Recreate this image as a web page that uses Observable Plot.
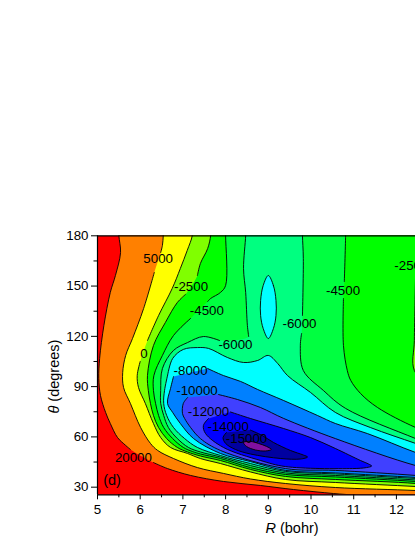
<!DOCTYPE html>
<html>
<head>
<meta charset="utf-8">
<script src="https://cdn.jsdelivr.net/npm/d3@7"></script>
<script src="https://cdn.jsdelivr.net/npm/@observablehq/plot@0.6"></script>
<style>
html,body{margin:0;padding:0;background:#fff;overflow:hidden}
svg{display:block}
</style>
</head>
<body>
<div id="chart"></div>
<script>
// Contour outlines as [R (bohr), theta (degrees)];
// null marks a break in the drawn line where a contour label sits.
const contour20000 = [[5.50,186.1],[5.50,180.2],[5.54,170.0],[5.42,156.3],[5.30,146.2],[5.15,126.5],[5.05,106.8],[5.03,94.9],[5.07,84.7],[5.19,74.6],[5.30,68.0],[5.47,59.6],[5.66,54.9],[5.77,52.5],null,[6.31,44.7],[6.64,41.1],[7.18,37.0],[7.95,33.4],[8.82,31.0],[9.59,28.6],[10.53,26.2],[11.09,25.0],[12.56,19.1],[13.27,16.2],[13.27,186.1]];
const contour5000 = [[6.54,186.1],[6.54,180.2],[6.52,174.2],[6.48,170.0],null,[6.33,158.1],[6.08,136.6],[5.82,118.7],[5.66,108.6],[5.59,98.4],[5.61,89.5],[5.77,80.0],[6.01,65.6],[6.24,56.1],[6.41,51.9],[6.78,47.1],[7.34,41.7],[7.95,38.2],[8.58,34.9],[9.40,32.2],[10.57,29.8],[12.45,28.0],[13.27,26.8],[13.27,186.1]];
const contour0 = [[7.22,186.1],[7.22,180.2],[7.10,171.2],[6.94,160.5],[6.75,148.6],[6.43,132.4],[6.17,117.5],null,[6.00,105.0],[5.93,96.6],[5.96,89.5],[6.12,80.0],[6.31,68.0],[6.48,59.6],[6.71,53.7],[7.11,50.1],[7.41,47.1],[7.88,44.1],[8.58,39.1],[9.40,34.6],[10.57,32.8],[12.45,30.4],[13.27,29.2],[13.27,186.1]];
const contourM2500 = [[7.65,186.1],[7.65,180.2],[7.58,172.4],[7.41,163.5],[7.34,156.3],null,[7.06,145.0],[6.87,140.2],[6.59,128.3],[6.31,114.5],[6.17,96.6],[6.19,87.7],[6.24,80.0],[6.31,72.8],[6.43,65.6],[6.62,59.0],[6.87,53.7],[7.11,51.0],[7.41,48.6],[7.88,45.9],[8.58,40.6],[9.40,36.4],[10.57,34.6],[12.45,32.2],[13.03,30.4],[13.03,81.7],[12.42,99.6],[12.42,117.5],[12.45,158.1],null,[12.47,168.2],[12.52,180.2],[12.52,186.1]];
const contourM4500 = [[8.00,186.1],[8.00,180.2],[8.00,150.3],[7.88,146.2],[7.65,142.6],[7.58,140.8],null,[7.18,130.7],[6.78,120.5],[6.52,108.6],[6.32,96.6],[6.31,87.7],[6.36,80.0],[6.43,72.8],[6.55,65.6],[6.76,59.0],[7.01,53.7],[7.22,51.3],[7.41,49.8],[7.88,47.1],[8.58,41.7],[9.40,37.6],[10.57,36.1],[12.45,33.4],[13.27,31.6],[13.27,57.9],[12.45,65.6],[11.56,77.5],[11.16,85.9],[10.93,93.7],[10.85,99.6],[10.76,114.5],[10.76,142.6],null,[10.78,152.7],[10.81,180.2],[10.81,186.1]];
const contourM6000 = [[8.47,186.1],[8.47,180.2],[8.42,160.5],[8.47,146.2],[8.51,126.5],[8.54,119.9],null,[7.86,117.5],[7.48,119.9],[7.11,116.3],[6.78,111.6],[6.52,100.8],[6.48,87.7],[6.48,80.0],[6.55,72.8],[6.66,65.6],[6.87,59.0],[7.13,53.7],[7.41,51.0],[7.88,48.0],[8.58,42.9],[9.40,38.5],[10.57,37.0],[12.45,34.3],[13.27,32.8],[13.27,50.7],[12.45,59.0],[10.81,77.0],[10.29,87.7],[9.82,99.6],[9.75,114.5],[9.78,121.7],null,[9.80,132.4],[9.82,166.5],[9.80,180.2],[9.80,186.1]];
const contourM7000 = [[6.64,96.6],[6.76,106.8],[7.01,112.2],[7.34,113.3],[7.60,112.8],[8.04,107.4],[8.42,104.4],[8.75,105.6],[9.00,108.6],[9.22,103.8],[9.45,96.6],[9.99,86.5],[10.57,74.6],[11.39,65.6],[12.45,56.1],[13.27,48.9],[13.27,34.0],[12.45,35.2],[10.57,37.9],[9.40,39.4],[8.58,44.1],[7.88,48.9],[7.34,53.7],[7.04,59.0],[6.78,65.6],[6.62,72.8],[6.55,80.0],[6.57,87.7],[6.64,96.6]];
const contourM7000Island = [[9.00,156.3],[9.12,150.3],[9.18,141.4],[9.18,132.4],[9.12,124.7],[9.00,118.7],[8.88,124.7],[8.82,132.4],[8.82,141.4],[8.88,150.3]];
const contourM8000 = [[7.58,100.8],[7.95,96.6],[8.35,93.1],[8.75,88.3],[9.36,81.7],[10.15,72.8],[10.57,68.0],[11.32,62.0],[12.45,50.7],[13.27,44.1],[13.27,34.6],[12.45,35.8],[10.57,38.5],[9.40,40.0],[8.58,45.3],[7.88,50.1],[7.25,59.0],[6.94,68.0],[6.76,74.6],[6.64,80.0],[6.71,88.9],[6.78,96.0]];
const contourM10000 = [[7.83,85.3],[8.28,82.3],[8.82,77.5],[9.36,71.0],[10.57,59.0],[12.45,42.9],[13.27,38.2],[13.27,35.2],[12.45,37.0],[10.57,40.0],[9.40,41.1],[7.88,51.9],[7.41,59.0],[7.18,65.6],[7.04,71.0],[6.99,74.0],[7.01,80.0],[7.11,83.5]];
const contourM12000 = [[8.11,74.9],[8.58,71.0],[9.36,65.0],[9.99,59.6],[10.57,53.1],[11.16,45.9],[11.35,43.8],[11.42,42.6],[11.30,41.7],[10.97,41.1],[9.40,42.3],[8.82,45.9],[7.95,53.7],[7.53,62.0],[7.48,66.8],[7.60,71.0]];
const contourM14000 = [[8.58,64.1],[8.86,60.8],[9.12,56.7],[9.52,51.9],[9.82,49.2],[9.92,48.0],[9.75,46.8],[9.29,47.1],[8.58,49.8],[8.23,52.5],[8.00,56.1],[7.94,59.6],[8.02,62.6]];
const contourM15000 = [[8.42,56.7],[8.58,57.3],[8.77,56.1],[8.96,54.3],[9.07,52.5],[8.93,51.6],[8.70,52.2],[8.49,54.3]];

const fillColors = ["#ff8000","#ffff00","#80ff00","#00ff00","#00ff40","#00ff80","#00ffff","#00ffff","#0080ff","#4040ff","#0000ff","#0000a0","#8010a0"];
const openContours = [contour20000,contour5000,contour0,contourM2500,contourM4500,contourM6000,contourM7000,contourM7000Island,contourM8000,contourM10000,contourM12000,contourM14000,contourM15000];
const closedLoops = [contourM7000Island,contourM15000];

const labelText = ["5000","-2500","-4500","-6000","0","-8000","-10000","-12000","-14000","-15000","20000","-6000","-4500","-2500"];
const labelR = [6.42,7.19,7.56,8.23,6.09,7.18,7.33,7.60,8.06,8.49,5.84,9.73,10.75,12.35];
const labelTheta = [166.5,149.7,135.4,115.1,109.8,99.6,87.3,75.3,65.8,58.9,47.5,127.3,147.0,162.3];

const xTicks = [5,6,7,8,9,10,11,12];
const xMinor = [5.5,6.5,7.5,8.5,9.5,10.5,11.5];
const yTicks = [30,60,90,120,150,180];
const yMinor = [45,75,105,135,165];
const xDomain = [5,12.447];
const yDomain = [25.45,180];

const rows = c => c.map(p => p ? {R:p[0],t:p[1]} : {R:NaN,t:NaN});
const fillRows = c => rows(c.filter(Boolean));

const marks = [Plot.frame({fill:"#ff0000",stroke:"none"})];
openContours.forEach((c,i) => {
  const curve = closedLoops.includes(c) ? "catmull-rom-closed" : "catmull-rom";
  marks.push(Plot.line(fillRows(c),{x:"R",y:"t",fill:fillColors[i],stroke:"none",curve,clip:true}));
  const drawn = closedLoops.includes(c) ? fillRows(c) : rows(c);
  marks.push(Plot.line(drawn,{x:"R",y:"t",stroke:"black",strokeWidth:0.9,curve,clip:true}));
});
marks.push(
  Plot.text(labelText,{x:(d,i)=>labelR[i],y:(d,i)=>labelTheta[i],text:d=>d,fontSize:13.3,fill:"black",textAnchor:"middle",clip:false}),
  Plot.text(["(d)"],{x:[5.34],y:[34.0],text:d=>d,fontSize:14.5,fill:"black"}),
  Plot.ruleY([180],{stroke:"black",strokeWidth:1.2}),
  Plot.ruleY([25.45],{stroke:"black",strokeWidth:1.2}),
  Plot.ruleX([5],{stroke:"black",strokeWidth:1.2}),
  Plot.axisX(xTicks,{anchor:"bottom",tickSize:5,tickPadding:5,label:null,tickFormat:d=>String(d),fontSize:13.3}),
  Plot.axisX(xMinor,{anchor:"bottom",tickSize:3,label:null,fill:"none"}),
  Plot.axisY(yTicks,{anchor:"left",tickSize:6,tickPadding:3,label:null,tickFormat:d=>String(d),fontSize:13.3}),
  Plot.axisY(yMinor,{anchor:"left",tickSize:3.5,label:null,fill:"none"}),
  Plot.text(["R (bohr)"],{x:[9.555],y:[5.35],text:d=>d,fontSize:14.5,fill:"black"}),
  Plot.text(["θ (degrees)"],{x:[3.99],y:[96.0],text:d=>d,fontSize:14.5,fill:"black",rotate:-90})
);

const chart = Plot.plot({
  width:415,height:537,
  marginLeft:97,marginRight:0,marginTop:235.3,marginBottom:42.7,
  x:{domain:xDomain,label:null},
  y:{domain:yDomain,label:null},
  style:{fontFamily:"'Liberation Sans',Arial,sans-serif",fontSize:"13.3px",background:"#fff",color:"black",overflow:"hidden"},
  marks
});
document.getElementById("chart").appendChild(chart);

// Italic axis symbols
const italicize = (full,sym) => {
  chart.querySelectorAll("text").forEach(t => {
    if (t.textContent === full) {
      const rest = full.slice(sym.length);
      t.textContent = "";
      const a = document.createElementNS("http://www.w3.org/2000/svg","tspan");
      a.setAttribute("font-style","italic");
      a.textContent = sym;
      t.appendChild(a);
      t.appendChild(document.createTextNode(rest));
    }
  });
};
italicize("R (bohr)","R");
italicize("θ (degrees)","θ");
</script>
</body>
</html>
